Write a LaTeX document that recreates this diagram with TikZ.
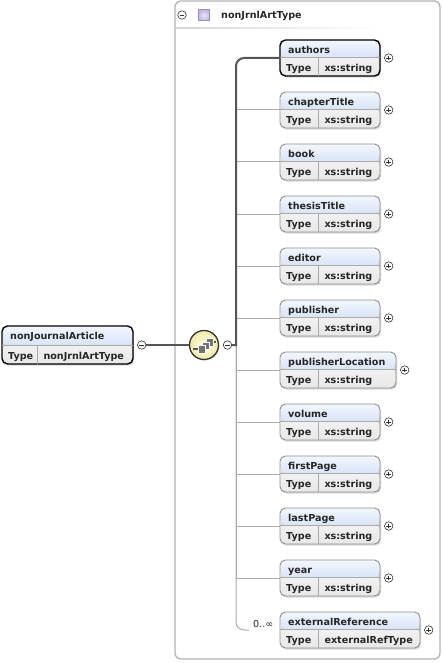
\documentclass[tikz,border=0pt]{standalone}
\usepackage{fontspec}
\setmainfont{DejaVu Sans}
\usetikzlibrary{calc,shadows}

\definecolor{hdtop}{HTML}{F3F7FE}
\definecolor{hdbot}{HTML}{BCD0F0}
\definecolor{rowgray}{HTML}{E8E8E8}
\definecolor{boxline}{HTML}{8E8E8E}
\definecolor{connline}{HTML}{AAAAAA}
\definecolor{seqline}{HTML}{555555}
\definecolor{frameline}{HTML}{B4B4B4}
\definecolor{seqin}{HTML}{FEFCE6}
\definecolor{seqout}{HTML}{F1E9A8}
\definecolor{typein}{HTML}{E9E4F8}
\definecolor{typeout}{HTML}{C2B7E6}

\tikzset{
  txt/.style={font=\fontsize{9.6}{11}\selectfont\bfseries, text=black!85, inner sep=0pt},
  multtxt/.style={font=\fontsize{9.6}{11}\selectfont, text=black!85, inner sep=0pt},
  elem/.style={draw=boxline, line width=0.9pt, rounded corners=5.5pt, anchor=north west,
    inner sep=0pt, outer sep=0pt,
    drop shadow={shadow xshift=1.2pt, shadow yshift=-1.6pt, opacity=0.3},
    path picture={
      \shade[top color=hdtop, bottom color=hdbot] (path picture bounding box.north west)
        rectangle ($(path picture bounding box.south east)+(0,-19)$);
      \shade[top color=rowgray!60!white, bottom color=rowgray] ($(path picture bounding box.south west)+(0,-19)$)
        rectangle (path picture bounding box.south east);
    }},
  elemsel/.style={elem, draw=black, line width=1.4pt},
  divline/.style={draw=boxline!75, line width=0.7pt},
  pm/.style={circle, draw=black!80, fill=white, line width=0.6pt, minimum size=8.5pt, inner sep=0pt},
  plusnode/.style={pm, path picture={
      \draw[line width=0.6pt] ($(path picture bounding box.center)+(-2.3,0)$) -- ++(4.6,0)
        ($(path picture bounding box.center)+(0,-2.3)$) -- ++(0,4.6);}},
  minusnode/.style={pm, path picture={
      \draw[line width=0.6pt] ($(path picture bounding box.center)+(-2.3,0)$) -- ++(4.6,0);}},
  seqnode/.style={circle, minimum size=29pt, inner sep=0pt, draw=black!80, line width=1.3pt,
    inner color=seqin, outer color=seqout,
    drop shadow={shadow xshift=1pt, shadow yshift=-1.2pt, opacity=0.25}},
  typeicon/.style={rectangle, minimum size=11pt, inner sep=0pt, draw=typeout!80!black, line width=0.6pt,
    inner color=typein, outer color=typeout},
  conn/.style={draw=connline, line width=1pt},
  seqconn/.style={draw=seqline, line width=2pt},
  frame/.style={draw=frameline, line width=1.3pt, rounded corners=6pt},
}

% box: [style](name)(x,y)(width:height:divider){label}{type}
\def\elembox[#1](#2)(#3,#4)(#5:#6:#7)#8#9{%
  \node[#1, minimum width=#5pt, minimum height=#6pt] (#2) at (#3,#4) {};
  \draw[divline] ($(#2.south west)+(0,-19)$) -- ($(#2.south east)+(0,-19)$);
  \draw[divline] ($(#2.south west)+(#7,0)$) -- ++(0,-19);
  \node[txt, anchor=base west] (#2-name) at ($(#2.north west)+(8,13.3)$) {#8};
  \node[txt, anchor=base west] (#2-type) at ($(#2.south west)+(6,-4.8)$) {Type};
  \node[txt, anchor=base west] (#2-val) at ($(#2.south west)+(#7+5.6,-4.8)$) {#9};
}

\begin{document}
\begin{tikzpicture}[x=1pt, y=-1pt]
  \useasboundingbox (0,0) rectangle (443,663);

  %%%%% TYPE FRAME %%%%%
  \draw[frame] (175,1) rectangle (440,659);
  \node[minusnode] (type-minus) at (182,15) {};
  \node[typeicon] (type-icon) at (204,15.3) {};
  \node[txt, anchor=base west] (type-name) at (221,18.5) {nonJrnlArtType};
  \shade[left color=black!16, right color=white] (176,27.3) rectangle (380,29);

  %%%%% ELEMENTS %%%%%
  \elembox[elemsel](nonJournalArticle)(2,326)(131:38:35.7){nonJournalArticle}{nonJrnlArtType}
  \elembox[elemsel](authors)(280,40)(100:36:38.7){authors}{xs:string}
  \elembox[elem](chapterTitle)(280,92)(100:36:38.7){chapterTitle}{xs:string}
  \elembox[elem](book)(280,144)(100:36:38.7){book}{xs:string}
  \elembox[elem](thesisTitle)(280,196)(100:36:38.7){thesisTitle}{xs:string}
  \elembox[elem](editor)(280,248)(100:36:38.7){editor}{xs:string}
  \elembox[elem](publisher)(280,300)(100:36:38.7){publisher}{xs:string}
  \elembox[elem](publisherLocation)(280,352)(116:36:38.7){publisherLocation}{xs:string}
  \elembox[elem](volume)(280,404)(100:36:38.7){volume}{xs:string}
  \elembox[elem](firstPage)(280,456)(100:36:38.7){firstPage}{xs:string}
  \elembox[elem](lastPage)(280,508)(100:36:38.7){lastPage}{xs:string}
  \elembox[elem](year)(280,560)(100:36:38.7){year}{xs:string}
  \elembox[elem](externalReference)(280,612)(140:36:38.7){externalReference}{externalRefType}

  \node[plusnode] (authors-plus) at ($(authors.east)+(8.7,0)$) {};
  \node[plusnode] (chapterTitle-plus) at ($(chapterTitle.east)+(8.7,0)$) {};
  \node[plusnode] (book-plus) at ($(book.east)+(8.7,0)$) {};
  \node[plusnode] (thesisTitle-plus) at ($(thesisTitle.east)+(8.7,0)$) {};
  \node[plusnode] (editor-plus) at ($(editor.east)+(8.7,0)$) {};
  \node[plusnode] (publisher-plus) at ($(publisher.east)+(8.7,0)$) {};
  \node[plusnode] (publisherLocation-plus) at ($(publisherLocation.east)+(8.7,0)$) {};
  \node[plusnode] (volume-plus) at ($(volume.east)+(8.7,0)$) {};
  \node[plusnode] (firstPage-plus) at ($(firstPage.east)+(8.7,0)$) {};
  \node[plusnode] (lastPage-plus) at ($(lastPage.east)+(8.7,0)$) {};
  \node[plusnode] (year-plus) at ($(year.east)+(8.7,0)$) {};
  \node[plusnode] (externalReference-plus) at ($(externalReference.east)+(8.7,0)$) {};

  %%%%% SEQUENCE %%%%%
  \node[minusnode] (nja-minus) at ($(nonJournalArticle.east)+(8.7,0)$) {};
  \node[seqnode] (seq) at (204,345) {};
  \node[minusnode] (seq-minus) at (227.5,345) {};
  \coordinate (spine) at (236,345);

  \draw[seqline, line width=1.3pt] ($(seq)+(-11,4)$) -- ($(seq)+(-6,4)$);
  \draw[seqline, line width=1.3pt] ($(seq)+(9,-3)$) -- ($(seq)+(11.5,-3)$);
  \draw[fill=black!55, draw=white, line width=0.7pt] ($(seq)+(2,-6.5)$) rectangle ++(7.5,7.5);
  \draw[fill=black!55, draw=white, line width=0.7pt] ($(seq)+(-2,-3)$) rectangle ++(7.5,7.5);
  \draw[fill=black!55, draw=white, line width=0.7pt] ($(seq)+(-6,0.5)$) rectangle ++(7.5,7.5);

  %%%%% CONNECTORS %%%%%
  \draw[conn] (spine) |- (chapterTitle.west);
  \draw[conn] (spine) |- (book.west);
  \draw[conn] (spine) |- (thesisTitle.west);
  \draw[conn] (spine) |- (editor.west);
  \draw[conn] (spine) |- (publisher.west);
  \draw[conn] (spine) |- (publisherLocation.west);
  \draw[conn] (spine) |- (volume.west);
  \draw[conn] (spine) |- (firstPage.west);
  \draw[conn] (spine) |- (lastPage.west);
  \draw[conn] (spine) |- (year.west);
  \coordinate (multend) at ($(externalReference.west)+(-31,0)$);
  \draw[conn, rounded corners=8pt] (spine) |- (multend);
  \node[multtxt, anchor=base west] (extref-mult) at (253,627) {0..∞};

  \draw[seqconn] (nja-minus) -- (seq);
  \draw[seqconn] (seq-minus) -- (spine) [rounded corners=8pt] |- (authors.west);

  %%%%% END %%%%%
\end{tikzpicture}
\end{document}
